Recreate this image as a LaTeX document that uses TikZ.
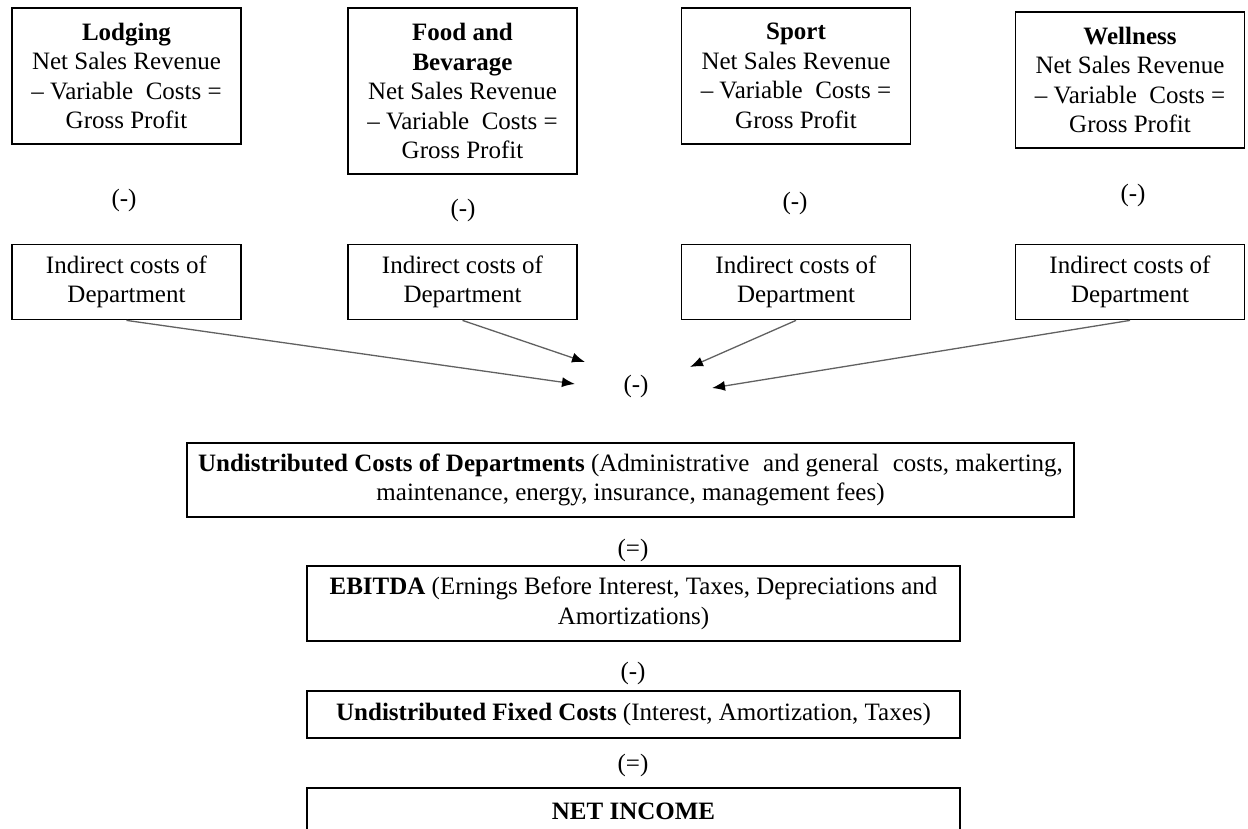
\documentclass[tikz,border=0pt]{standalone}
\usepackage{fontspec}
\setmainfont{Liberation Serif}
\usetikzlibrary{arrows.meta}
\tikzset{
  cell/.style={draw=black, line width=1.8pt, align=center, inner sep=0pt,
               minimum width=229pt},
  sign/.style={inner sep=0pt},
  feed/.style={draw=black!62, line width=1.3pt,
               -{Latex[length=13pt,width=10pt,color=black]}},
}
\begin{document}
\begin{tikzpicture}[x=1pt,y=-1pt,font=\fontsize{25}{29.5}\selectfont]
\clip (0,0) rectangle (1248,829);
\fill[white] (0,0) rectangle (1248,829);

% departments
\node[cell, minimum height=136pt] (lodg) at (126.5,76)
  {\textbf{Lodging}\\Net Sales Revenue\\– Variable~ Costs =\\Gross Profit};
\node[cell, minimum height=166pt] (food) at (462.5,91)
  {\textbf{Food and}\\\textbf{Bevarage}\\Net Sales Revenue\\– Variable~ Costs =\\Gross Profit};
\node[cell, minimum height=136pt] (sport) at (796,76)
  {\textbf{Sport}\\Net Sales Revenue\\– Variable~ Costs =\\Gross Profit};
\node[cell, minimum height=136pt] (well) at (1130,80)
  {\textbf{Wellness}\\Net Sales Revenue\\– Variable~ Costs =\\Gross Profit};

% minus signs between departments and their indirect costs
\node[sign] (m1) at (124,200) {(-)};
\node[sign] (m2) at (463,210) {(-)};
\node[sign] (m3) at (795,203) {(-)};
\node[sign] (m4) at (1133,195) {(-)};

% indirect costs
\node[cell, minimum height=75pt] (ind1) at (126.5,282) {Indirect costs of\\Department};
\node[cell, minimum height=75pt] (ind2) at (462.5,282) {Indirect costs of\\Department};
\node[cell, minimum height=75pt] (ind3) at (796,282) {Indirect costs of\\Department};
\node[cell, minimum height=75pt] (ind4) at (1130,282) {Indirect costs of\\Department};

% converging arrows
\node[sign] (mid) at (636,386) {(-)};
\coordinate (t1) at (575,384);
\coordinate (t2) at (585,362);
\coordinate (t3) at (690,367);
\coordinate (t4) at (712,388);
\draw[feed] (ind1.south) -- (t1);
\draw[feed] (ind2.south) -- (t2);
\draw[feed] (ind3.south) -- (t3);
\draw[feed] (ind4.south) -- (t4);

% summary chain
\node[cell, minimum width=887pt, minimum height=74pt] (undist) at (630.5,480)
  {\textbf{Undistributed Costs of Departments} (Administrative\hspace{.3em} and general\hspace{.3em} costs, makerting,\\maintenance, energy, insurance, management fees)};
\node[sign] (eq1) at (633,550) {(=)};
\node[cell, minimum width=653pt, minimum height=75pt] (ebitda) at (633.5,603.5)
  {\textbf{EBITDA} (Ernings Before Interest, Taxes, Depreciations and\\Amortizations)};
\node[sign] (m5) at (633,673) {(-)};
\node[cell, minimum width=653pt, minimum height=47pt] (fixed) at (633.5,714.5)
  {\textbf{Undistributed Fixed Costs} (Interest, Amortization, Taxes)};
\node[sign] (eq2) at (633,765) {(=)};
\node[cell, minimum width=653pt, minimum height=46pt] (net) at (633.5,811)
  {\textbf{NET INCOME}};
\end{tikzpicture}
\end{document}
